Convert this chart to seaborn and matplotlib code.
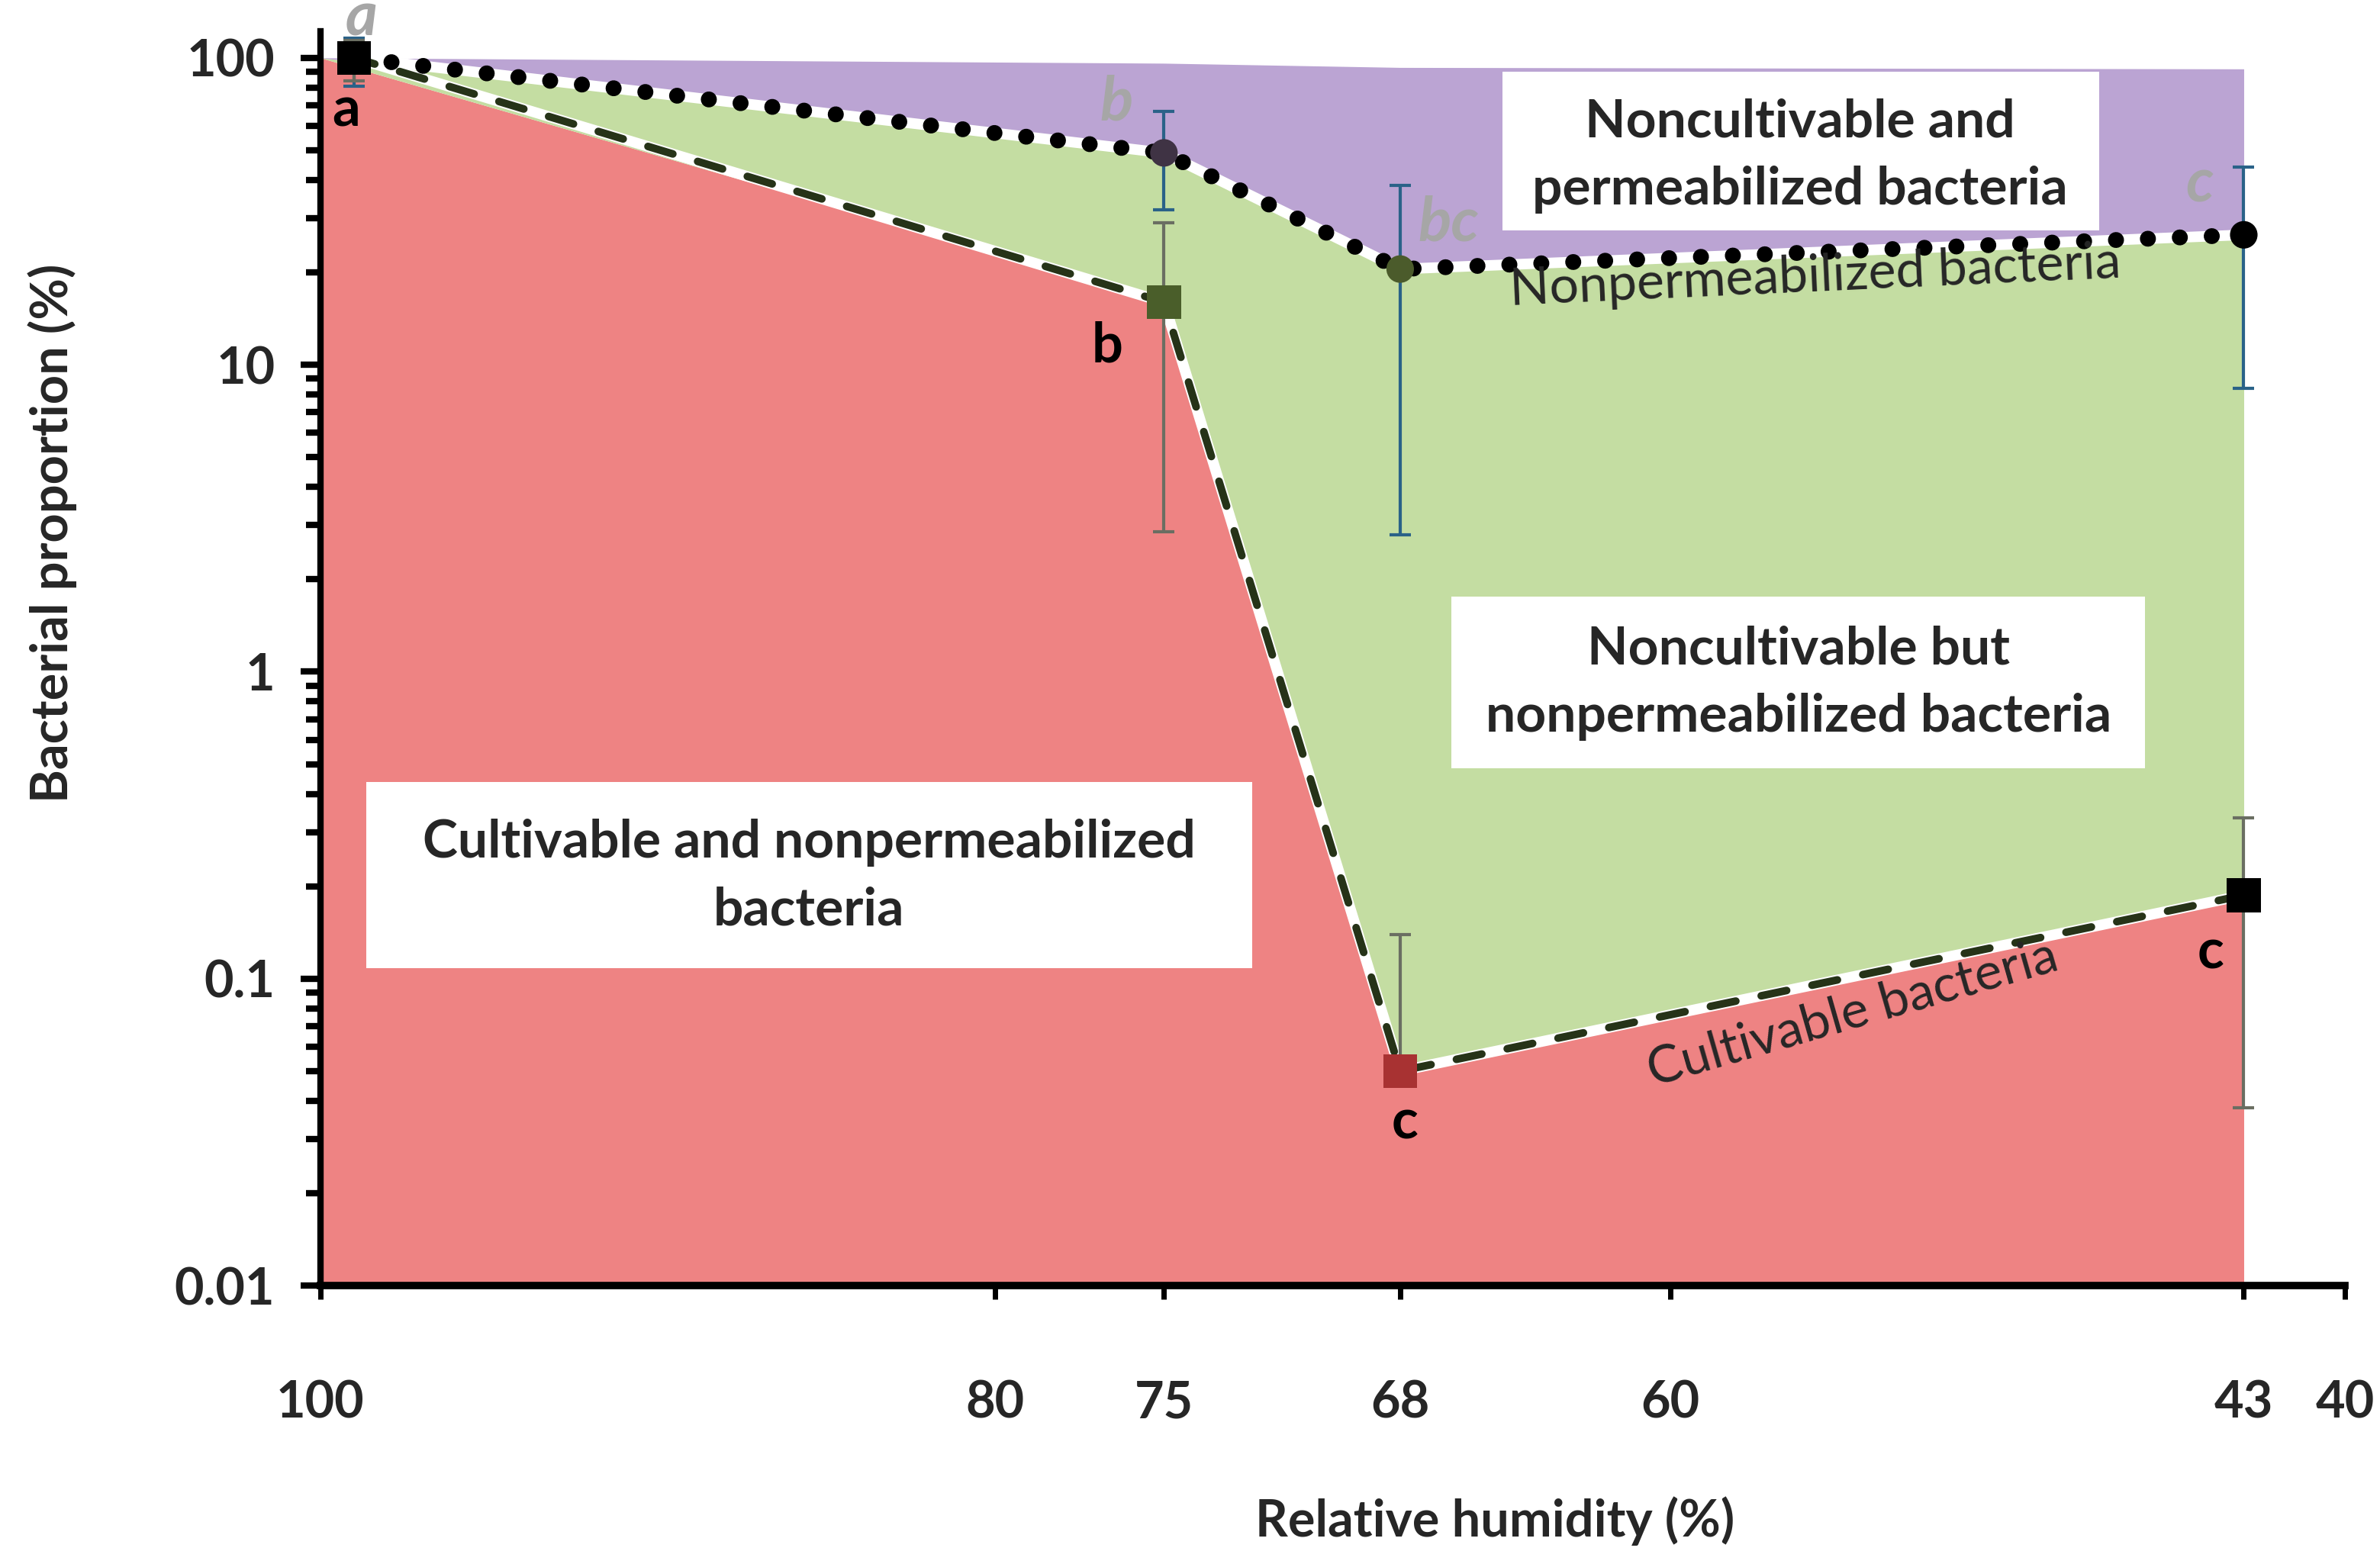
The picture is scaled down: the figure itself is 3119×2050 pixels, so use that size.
import numpy as np
import pandas as pd
import matplotlib
matplotlib.use("Agg")
import matplotlib.pyplot as plt
import seaborn as sns
from matplotlib.patches import Rectangle
from matplotlib.ticker import FixedLocator, NullFormatter, LogLocator

# values
humidity = [99, 75, 68, 43]
rh_area = [100, 75, 68, 43]            # hand drawn areas start at the axis
nonperm = [100, 49, 20.5, 26.5]        # nonpermeabilized bacteria (%)
nonperm_lo = [81, 32, 2.8, 8.4]
nonperm_hi = [116, 67, 38.5, 44]
cultivable = [100, 16, 0.05, 0.187]    # cultivable bacteria (%)
cult_lo = [84, 2.85, 0.045, 0.038]
cult_hi = [114, 29, 0.139, 0.335]
area_top = [100, 96, 93, 92]
area_bottom = 0.01

letters_cult = ['a', 'b', 'c', 'c']
letters_nonperm = ['a', 'b', 'bc', 'c']

x_ticks = [100, 80, 75, 68, 60, 43, 40]
y_ticks = [0.01, 0.1, 1, 10, 100]
y_tick_labels = ['0.01', '0.1', '1', '10', '100']

df = pd.DataFrame({'rh': humidity, 'nonperm': nonperm, 'cult': cultivable})

sns.set_style("ticks")
plt.rcParams['font.family'] = ['Lato', 'DejaVu Sans']

fig = plt.figure(figsize=(15.595, 10.25), dpi=200)
ax = fig.add_axes([0.1346, 0.178, 0.8507, 0.802])
ax.set_yscale('log')

red = '#EE8383'
green = '#C4DDA2'
purple = '#BBA4D3'

# shaded areas
ax.fill_between(rh_area, area_bottom, cultivable, color=red, lw=0, zorder=1)
ax.fill_between(rh_area, cultivable, nonperm, color=green, lw=0, zorder=1)
ax.fill_between(rh_area, nonperm, area_top, color=purple, lw=0, zorder=1)

# white gaps along the boundaries
ax.plot(humidity, nonperm, color='white', lw=5, zorder=2, solid_capstyle='butt')
ax.plot(humidity, cultivable, color='white', lw=5, zorder=2, solid_capstyle='butt')

# error bars
c = np.array(cultivable); n = np.array(nonperm)
ax.errorbar(humidity, nonperm, yerr=[n - np.array(nonperm_lo), np.array(nonperm_hi) - n],
            fmt='none', ecolor='#2A6288', elinewidth=1.5, capsize=5, capthick=1.5, zorder=3)
ax.errorbar(humidity, cultivable, yerr=[c - np.array(cult_lo), np.array(cult_hi) - c],
            fmt='none', ecolor='#6A6E62', elinewidth=1.5, capsize=5, capthick=1.5, zorder=3)

# lines
sns.lineplot(data=df, x='rh', y='nonperm', ax=ax, color='black', lw=7.5,
             linestyle=(0, (0.01, 2.0)), dash_capstyle='round', zorder=4)
sns.lineplot(data=df, x='rh', y='cult', ax=ax, color='#263318', lw=3.6,
             linestyle=(0, (3.4, 3.4)), dash_capstyle='round', zorder=4)

# markers
circle_colors = ['black', '#3F3344', '#4B5B2B', 'black']
square_colors = ['black', '#4A5E2A', '#A83232', 'black']
ax.scatter(humidity, nonperm, s=13 ** 2, marker='o', c=circle_colors, lw=0, zorder=5)
ax.scatter(humidity, cultivable, s=16 ** 2, marker='s', c=square_colors, lw=0, zorder=5)

# significance letters
cult_offsets = [(-3.6, -25), (-26.6, -21), (2.2, -24.5), (-15.8, -27.3)]
nonperm_offsets = [(3.6, 18.7), (-22.3, 23.7), (23, 21.6), (-20.9, 23.7)]
for xv, yv, lab, off in zip(humidity, cultivable, letters_cult, cult_offsets):
    ax.annotate(lab, (xv, yv), xytext=off, textcoords='offset points',
                ha='center', va='center', fontsize=26, fontweight='bold',
                color='black', zorder=7)
for xv, yv, lab, off in zip(humidity, nonperm, letters_nonperm, nonperm_offsets):
    ax.annotate(lab, (xv, yv), xytext=off, textcoords='offset points',
                ha='center', va='center', fontsize=29, fontweight='bold',
                fontstyle='italic', color='#A6A6A6', zorder=7, annotation_clip=False)

# region labels on white boxes
boxes = [(0.584, 0.841, 0.2946, 0.127), (0.5585, 0.4126, 0.3426, 0.1367),
         (0.0225, 0.2529, 0.4378, 0.1488)]
for bx, by, bw, bh in boxes:
    ax.add_patch(Rectangle((bx, by), bw, bh, transform=ax.transAxes,
                           fc='white', ec='none', zorder=6))
ax.text(0.7309, 0.9009, "Noncultivable and\npermeabilized bacteria", transform=ax.transAxes,
        ha='center', va='center', fontsize=25, fontweight='bold', linespacing=1.5, zorder=7)
ax.text(0.730, 0.4804, "Noncultivable but\nnonpermeabilized bacteria", transform=ax.transAxes,
        ha='center', va='center', fontsize=25, fontweight='bold', linespacing=1.5, zorder=7)
ax.text(0.2414, 0.3261, "Cultivable and nonpermeabilized\nbacteria", transform=ax.transAxes,
        ha='center', va='center', fontsize=25, fontweight='bold', linespacing=1.5, zorder=7)
ax.text(55.7, 19.3, "Nonpermeabilized bacteria", ha='center', va='center',
        fontsize=24.5, rotation=2.6, zorder=7)
ax.text(54.6, 0.077, "Cultivable bacteria", ha='center', va='center',
        fontsize=24.5, rotation=16, zorder=7)

# axes
ax.set_xlim(100, 40)
ax.set_ylim(0.01, 122)
ax.xaxis.set_major_locator(FixedLocator(x_ticks))
ax.set_xticklabels([str(v) for v in x_ticks])
ax.yaxis.set_major_locator(FixedLocator(y_ticks))
ax.set_yticklabels(y_tick_labels)
ax.yaxis.set_minor_locator(LogLocator(base=10, subs=np.arange(2, 10)))
ax.yaxis.set_minor_formatter(NullFormatter())

for lab in ax.get_xticklabels() + ax.get_yticklabels():
    lab.set_fontweight('bold')
    lab.set_fontsize(24)

ax.tick_params(axis='y', which='major', direction='out', length=9.4, width=3, pad=12, color='black')
ax.tick_params(axis='y', which='minor', direction='out', length=7, width=3, color='black')
ax.tick_params(axis='x', which='major', direction='out', length=6.5, width=2.5, pad=38, color='black')

sns.despine(ax=ax)
ax.spines['left'].set_linewidth(3)
ax.spines['bottom'].set_linewidth(3.5)
ax.spines['left'].set_color('black')
ax.spines['bottom'].set_color('black')

ax.set_xlabel("Relative humidity (%)", fontsize=24, fontweight='bold')
ax.set_ylabel("Bacterial proportion (%)", fontsize=24, fontweight='bold')
ax.xaxis.set_label_coords(0.58, -0.168)
ax.yaxis.set_label_coords(-0.12, 0.60)

fig.savefig('out.png', dpi=200, facecolor='white')
